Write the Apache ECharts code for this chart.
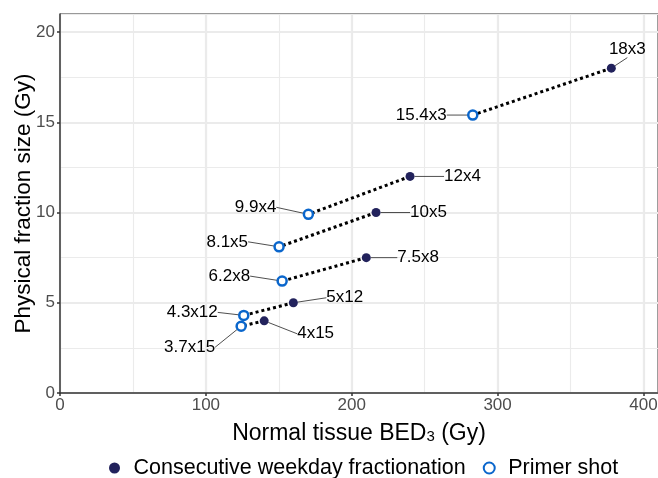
<!DOCTYPE html>
<html>
<head>
<meta charset="utf-8">
<script src="https://cdn.jsdelivr.net/npm/echarts@6/dist/echarts.min.js"></script>
<style>
  html, body { margin: 0; padding: 0; background: #fff; }
  #chart { width: 658px; height: 478px; }
</style>
</head>
<body>
<div id="chart"></div>
<script>
// consecutive weekday fractionation
const fillX = [378, 240, 216.7, 210, 160, 140];
const fillY = [18, 12, 10, 7.5, 5, 4];
const fillLabels = ["18x3", "12x4", "10x5", "7.5x8", "5x12", "4x15"];
// primer shot
const primerX = [283, 170.3, 150.2, 152.3, 126, 124.2];
const primerY = [15.4, 9.9, 8.1, 6.2, 4.3, 3.7];
const primerLabels = ["15.4x3", "9.9x4", "8.1x5", "6.2x8", "4.3x12", "3.7x15"];

const xTicks = [0, 100, 200, 300, 400];
const yTicks = [0, 5, 10, 15, 20];

// label offsets from the point, in px (like ggrepel placed them)
const fillOffsets = [[16, -19, "center"], [34, 0, "left"], [34, 0, "left"], [31, 0, "left"], [33, -5, "left"], [33, 13, "left"]];
const primerOffsets = [[-26, 0, "right"], [-32, -7, "right"], [-31, -5, "right"], [-32, -5, "right"], [-26, -3, "right"], [-26, 21, "right"]];

const FONT = "Liberation Sans, Arial, sans-serif";
const gridColor = "#ebebeb";
const navy = "#22225c";
const blue = "#0a66cc";

const chart = echarts.init(document.getElementById("chart"));

function layoutWith(offsets) {
	return function (p) {
		const o = offsets[p.dataIndex];
		const cx = p.rect.x + p.rect.width / 2;
		const cy = p.rect.y + p.rect.height / 2;
		return { x: cx + o[0], y: cy + o[1], align: o[2], verticalAlign: "middle" };
	};
}

const pairLines = fillX.map((x, i) => ({
	type: "line",
	xAxisIndex: 0,
	yAxisIndex: 0,
	data: [[x, fillY[i]], [primerX[i], primerY[i]]],
	symbol: "none",
	silent: true,
	z: 1,
	lineStyle: { color: "#000", width: 3, type: [3, 3], cap: "butt", opacity: 1 }
}));

const labelCommon = {
	show: true,
	fontFamily: FONT,
	fontSize: 17,
	color: "#000",
	opacity: 1
};

const option = {
	animation: false,
	backgroundColor: "#fff",
	grid: {
		left: 60,
		right: 0,
		top: 14,
		bottom: 85,
		outerBoundsMode: "none",
		containLabel: false,
		show: true,
		borderColor: "#333",
		borderWidth: 1,
		backgroundColor: "#fff"
	},
	legend: {
		top: 452,
		left: 104,
		data: ["Consecutive weekday fractionation", "Primer shot"],
		itemWidth: 28,
		itemHeight: 11,
		itemGap: 17,
		textStyle: { fontFamily: FONT, fontSize: 21.5, color: "#000" }
	},
	xAxis: [
		{
			type: "value",
			min: 0,
			max: 410,
			interval: 100,
			name: "{a|Normal tissue BED}{s|3}{a| (Gy)}",
			nameLocation: "middle",
			nameGap: 29,
			nameTextStyle: {
				rich: {
					a: { fontFamily: FONT, fontSize: 23, color: "#000" },
					s: { fontFamily: FONT, fontSize: 15, color: "#000", padding: [6, 0, 0, 0] }
				}
			},
			axisLine: { show: true, lineStyle: { color: "#333", width: 1.5 } },
			axisTick: { show: true, length: 3, customValues: xTicks, lineStyle: { color: "#333", width: 1.5 } },
			axisLabel: { customValues: xTicks, margin: 4, fontFamily: FONT, fontSize: 17, color: "#4d4d4d" },
			splitLine: { show: true, lineStyle: { color: gridColor, width: 2.2 } }
		},
		{
			type: "value",
			min: 0,
			max: 410,
			interval: 50,
			position: "bottom",
			axisLine: { show: false },
			axisTick: { show: false },
			axisLabel: { show: false },
			splitLine: { show: true, lineStyle: { color: gridColor, width: 1.1 } }
		}
	],
	yAxis: [
		{
			type: "value",
			min: 0,
			max: 21,
			interval: 5,
			name: "Physical fraction size (Gy)",
			nameLocation: "middle",
			nameMoveOverlap: false,
			nameGap: 25,
			nameTextStyle: { fontFamily: FONT, fontSize: 22.5, color: "#000" },
			axisLine: { show: true, lineStyle: { color: "#333", width: 1.5 } },
			axisTick: { show: true, length: 3, customValues: yTicks, lineStyle: { color: "#333", width: 1.5 } },
			axisLabel: { customValues: yTicks, margin: 5, fontFamily: FONT, fontSize: 17, color: "#4d4d4d" },
			splitLine: { show: true, lineStyle: { color: gridColor, width: 2.2 } }
		},
		{
			type: "value",
			min: 0,
			max: 21,
			interval: 2.5,
			position: "left",
			axisLine: { show: false },
			axisTick: { show: false },
			axisLabel: { show: false },
			splitLine: { show: true, lineStyle: { color: gridColor, width: 1.1 } }
		}
	],
	series: pairLines.concat([
		{
			name: "Consecutive weekday fractionation",
			type: "scatter",
			xAxisIndex: 0,
			yAxisIndex: 0,
			z: 3,
			symbol: "circle",
			symbolSize: 9,
			itemStyle: { color: navy, opacity: 1 },
			data: fillX.map((x, i) => ({ value: [x, fillY[i]], label: { formatter: fillLabels[i] } })),
			label: labelCommon,
			labelLayout: layoutWith(fillOffsets),
			labelLine: { show: true, lineStyle: { color: "#222", width: 0.8, opacity: 1 } }
		},
		{
			name: "Primer shot",
			type: "scatter",
			xAxisIndex: 0,
			yAxisIndex: 0,
			z: 3,
			symbol: "circle",
			symbolSize: 9,
			itemStyle: { color: "#fff", borderColor: blue, borderWidth: 2.5, opacity: 1 },
			data: primerX.map((x, i) => ({ value: [x, primerY[i]], label: { formatter: primerLabels[i] } })),
			label: labelCommon,
			labelLayout: layoutWith(primerOffsets),
			labelLine: { show: true, lineStyle: { color: "#222", width: 0.8, opacity: 1 } }
		}
	])
};

chart.setOption(option);
</script>
</body>
</html>
